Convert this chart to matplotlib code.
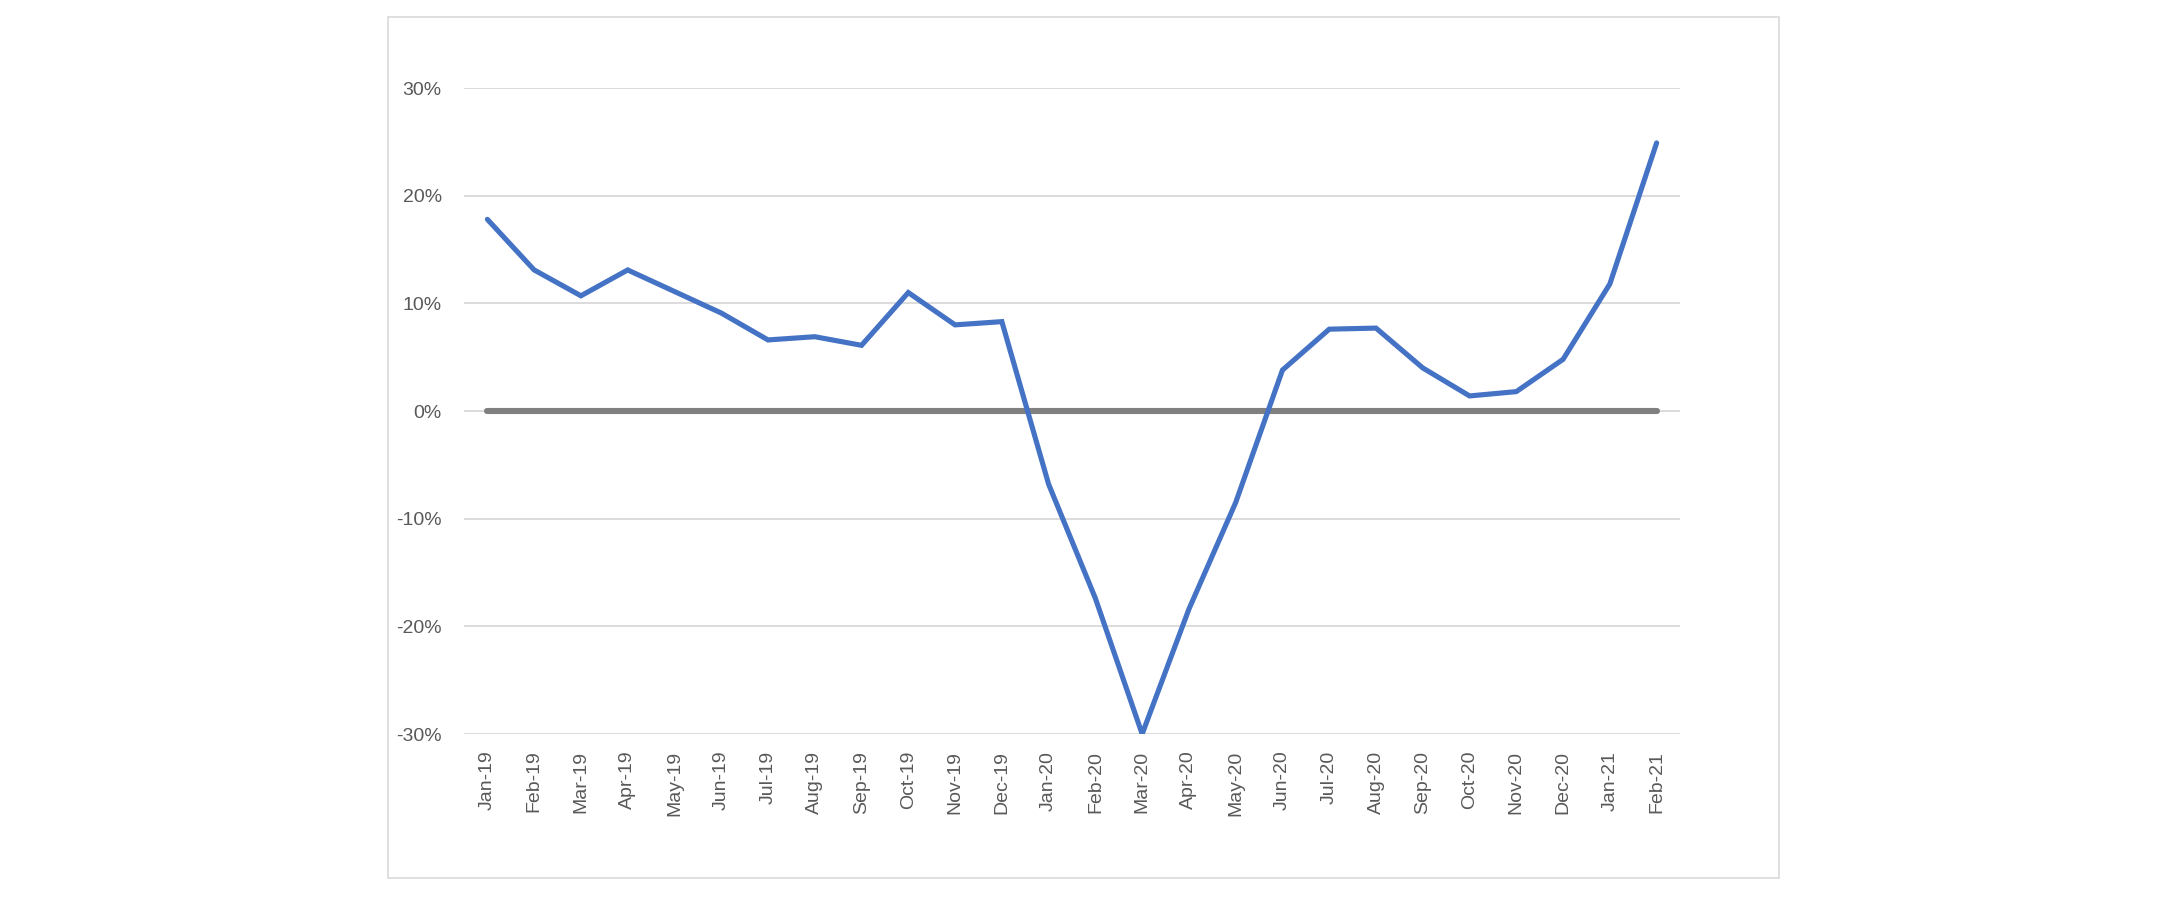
import matplotlib
matplotlib.use("Agg")
import matplotlib.pyplot as plt
from matplotlib.patches import Rectangle
from matplotlib.ticker import FuncFormatter

months = ["Jan-19", "Feb-19", "Mar-19", "Apr-19", "May-19", "Jun-19", "Jul-19",
          "Aug-19", "Sep-19", "Oct-19", "Nov-19", "Dec-19", "Jan-20", "Feb-20",
          "Mar-20", "Apr-20", "May-20", "Jun-20", "Jul-20", "Aug-20", "Sep-20",
          "Oct-20", "Nov-20", "Dec-20", "Jan-21", "Feb-21"]
growth = [0.178, 0.131, 0.107, 0.131, 0.111, 0.091, 0.066, 0.069, 0.061, 0.110,
          0.080, 0.083, -0.068, -0.174, -0.300, -0.184, -0.085, 0.038, 0.076,
          0.077, 0.040, 0.014, 0.018, 0.048, 0.118, 0.249]
baseline = [0.0] * len(months)
yticks = [-0.3, -0.2, -0.1, 0.0, 0.1, 0.2, 0.3]

plt.rcParams['font.family'] = ['Liberation Sans', 'DejaVu Sans']

W, H = 2164, 897
fig = plt.figure(figsize=(W / 100, H / 100), dpi=100)
fig.patch.set_facecolor("white")

# outer chart border
fig.patches.append(Rectangle((388 / W, 1 - 878 / H), (1779 - 388) / W, (878 - 17) / H,
                             transform=fig.transFigure, fill=False,
                             edgecolor="#d9d9d9", linewidth=1.2))

ax = fig.add_axes([464 / W, 1 - 734 / H, (1680 - 464) / W, (734 - 88) / H])
x = list(range(len(months)))

ax.set_xlim(-0.5, len(months) - 0.5)
ax.set_ylim(-0.3, 0.3)
ax.set_yticks(yticks)
ax.yaxis.set_major_formatter(FuncFormatter(lambda v, p: f"{round(v * 100):d}%"))
ax.grid(axis="y", color="#d9d9d9", linewidth=1.3)
ax.set_axisbelow(True)
for s in ax.spines.values():
    s.set_visible(False)

ax.plot(x, baseline, color="#808080", linewidth=4.4, solid_capstyle="round", zorder=2)
ax.plot(x, growth, color="#4472C4", linewidth=3.7, solid_capstyle="round",
        solid_joinstyle="miter", zorder=3)

ax.set_xticks(x)
ax.set_xticklabels(months, rotation=90, fontsize=14, color="#595959")
ax.tick_params(axis="x", length=0, pad=12)
ax.tick_params(axis="y", length=0, pad=16, labelsize=14, labelcolor="#595959")

fig.savefig("out.png", dpi=100, facecolor="white")
